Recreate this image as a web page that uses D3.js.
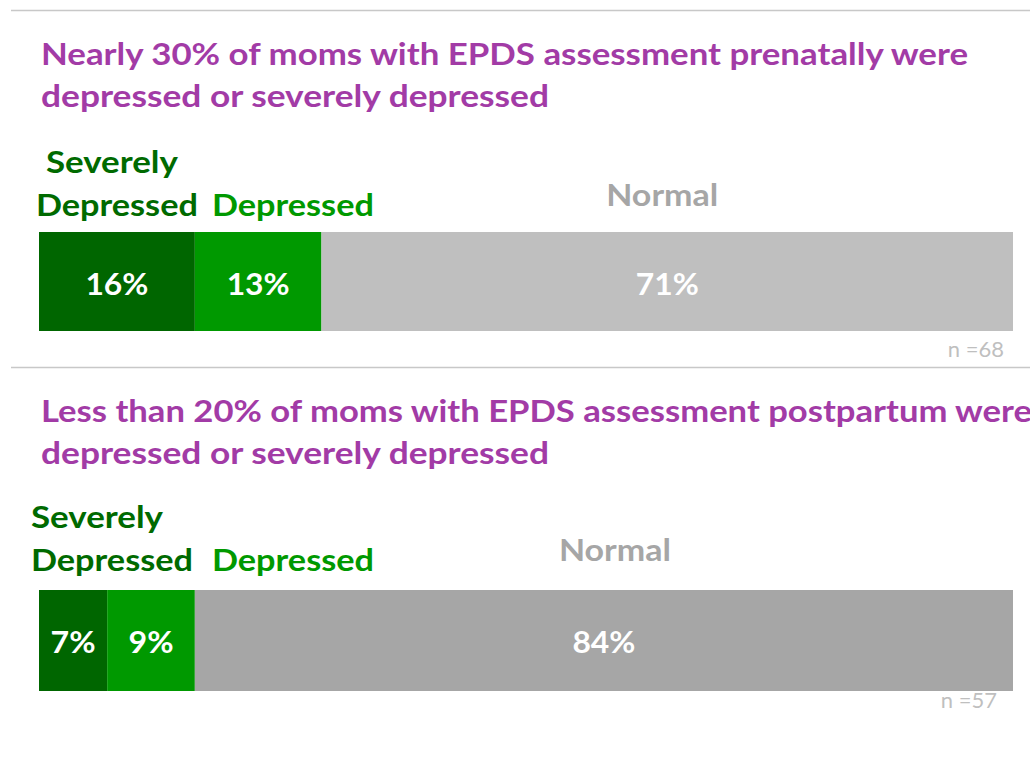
<!DOCTYPE html>
<html>
<head>
<meta charset="utf-8">
<script src="https://cdn.jsdelivr.net/npm/d3@7"></script>
<style>
  html, body { margin: 0; padding: 0; background: #fff; }
  svg text { font-family: Lato, "Open Sans", sans-serif; font-weight: 700; }
</style>
</head>
<body>
<svg id="chart" width="1030" height="768"></svg>
<script>
// chart data
const categories = ["Severely Depressed", "Depressed", "Normal"];
const prenatalValues = [16, 13, 71];
const postpartumValues = [7, 9, 84];
const prenatalTitle = ["Nearly 30% of moms with EPDS assessment prenatally were", "depressed or severely depressed"];
const postpartumTitle = ["Less than 20% of moms with EPDS assessment postpartum were", "depressed or severely depressed"];
const sampleSizes = [68, 57];

const TITLE_COLOR = "#a23ba6";
const SEG_COLORS = ["#006600", "#009900", null];
const LABEL_COLORS = ["#006a00", "#009900", "#a6a6a6"];
const FONT = 30;

const svg = d3.select("#chart");
const x = d3.scaleLinear().domain([0, 100]).range([39, 1013]);

// separator lines
svg.selectAll("line.sep")
  .data([10, 367])
  .join("line")
  .attr("class", "sep")
  .attr("x1", 11).attr("x2", 1030)
  .attr("y1", (d) => d + 0.5).attr("y2", (d) => d + 0.5)
  .attr("stroke", "#c8c8c8")
  .attr("stroke-width", 1.5);

const panels = [
  {
    values: prenatalValues, title: prenatalTitle, n: sampleSizes[0],
    titleY: 65, titleW: [927, 508], labelY: 216, barY: 232, barH: 99,
    normalColor: "#bfbfbf", nX: 1004, nY: 357, labelGap: 14, firstShift: -5, normalShift: -5
  },
  {
    values: postpartumValues, title: postpartumTitle, n: sampleSizes[1],
    titleY: 422, titleW: [991, 508], labelY: 571, barY: 590, barH: 101,
    normalColor: "#a6a6a6", nX: 997, nY: 708, labelGap: 19, firstShift: -15, normalShift: 11
  },
];

// approximate widths of the Calibri-like source text
const WORD_W = { "Severely": 132, "Depressed": 162, "Normal": 112 };
const pctWidth = (s) => (s.length === 2 ? 45 : 63);

panels.forEach((p) => {
  const g = svg.append("g");

  // title
  g.selectAll("text.title")
    .data(p.title)
    .join("text")
    .attr("class", "title")
    .attr("x", 41)
    .attr("y", (d, i) => p.titleY + i * 42)
    .attr("fill", TITLE_COLOR)
    .attr("font-size", FONT)
    .attr("textLength", (d, i) => p.titleW[i])
    .attr("lengthAdjust", "spacingAndGlyphs")
    .text((d) => d);

  // stacked segments
  let acc = 0;
  const segs = p.values.map((v, i) => {
    const s = { key: categories[i], value: v, x0: acc, x1: acc + v, i };
    acc += v;
    return s;
  });

  g.selectAll("rect.seg")
    .data(segs)
    .join("rect")
    .attr("class", "seg")
    .attr("x", (d) => x(d.x0))
    .attr("y", p.barY)
    .attr("width", (d) => x(d.x1) - x(d.x0))
    .attr("height", p.barH)
    .attr("fill", (d) => SEG_COLORS[d.i] || p.normalColor);

  // value labels
  g.selectAll("text.pct")
    .data(segs)
    .join("text")
    .attr("class", "pct")
    .attr("x", (d) => (x(d.x0) + x(d.x1)) / 2)
    .attr("y", p.barY + 63)
    .attr("text-anchor", "middle")
    .attr("fill", "#fff")
    .attr("font-size", FONT)
    .attr("textLength", (d) => pctWidth(d.value + "%"))
    .attr("lengthAdjust", "spacingAndGlyphs")
    .text((d) => d.value + "%");

  // category labels, pushed right so they don't overlap
  let prevEnd = 31 - p.labelGap;
  segs.forEach((d) => {
    const words = d.key.split(" ");
    const w = d3.max(words, (wd) => WORD_W[wd]);
    let cx = (x(d.x0) + x(d.x1)) / 2;
    if (d.i === 2) cx = cx + p.normalShift;
    if (cx - w / 2 < prevEnd + p.labelGap) cx = prevEnd + p.labelGap + w / 2;
    prevEnd = cx + w / 2;
    const lines = words.length > 1 ? words : [d.key];
    g.selectAll(null)
      .data(lines)
      .join("text")
      .attr("x", (t, j) => cx + (lines.length > 1 && j === 0 ? p.firstShift : 0))
      .attr("y", (t, j) => p.labelY - (lines.length - 1 - j) * 43 - (d.i === 2 ? 10 : 0))
      .attr("text-anchor", "middle")
      .attr("fill", LABEL_COLORS[d.i])
      .attr("font-size", FONT)
      .attr("textLength", (t) => WORD_W[t])
      .attr("lengthAdjust", "spacingAndGlyphs")
      .text((t) => t);
  });

  // sample size
  g.append("text")
    .attr("x", p.nX)
    .attr("y", p.nY)
    .attr("text-anchor", "end")
    .attr("fill", "#bfbfbf")
    .attr("font-size", 22)
    .style("font-weight", 400)
    .text("n =" + p.n);
});
</script>
</body>
</html>
